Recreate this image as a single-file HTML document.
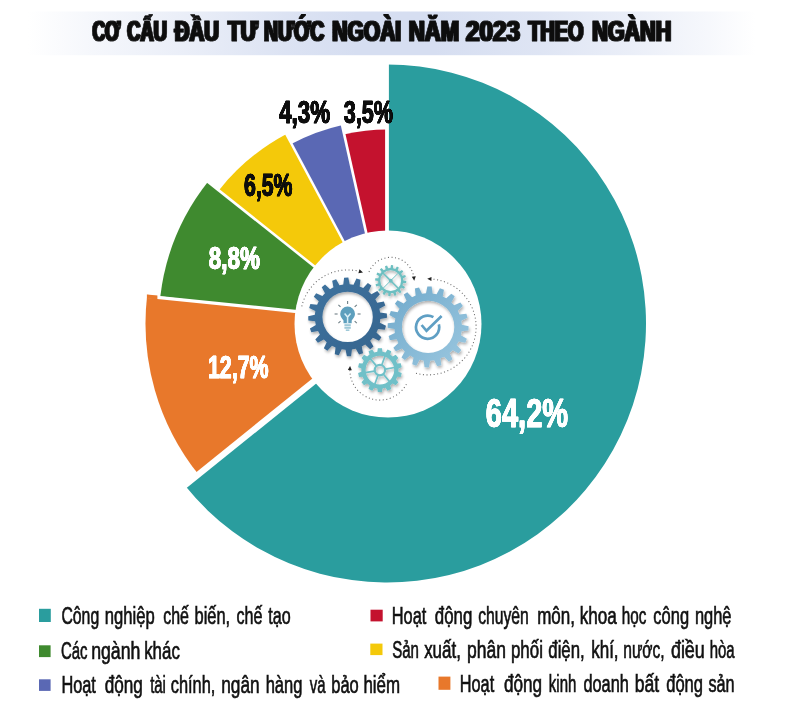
<!DOCTYPE html>
<html lang="vi"><head><meta charset="utf-8"><title>Cơ cấu đầu tư nước ngoài năm 2023 theo ngành</title>
<style>
html,body{margin:0;padding:0;background:#fff;}
body{width:791px;height:717px;overflow:hidden;}
svg{display:block;}
text{font-family:"Liberation Sans",sans-serif;font-kerning:none;}
.pct{font-weight:bold;}
.lg{font-size:23.0px;fill:#111;}
</style></head><body>
<svg width="791" height="717" viewBox="0 0 791 717">
<defs>
<linearGradient id="band" x1="0" x2="1" y1="0" y2="0">
<stop offset="0.035" stop-color="#d6def1" stop-opacity="0"/>
<stop offset="0.12" stop-color="#d6def1" stop-opacity="0.25"/>
<stop offset="0.25" stop-color="#d6def1" stop-opacity="0.55"/>
<stop offset="0.36" stop-color="#d6def1" stop-opacity="0.85"/>
<stop offset="0.45" stop-color="#d6def1" stop-opacity="1"/>
<stop offset="0.55" stop-color="#d6def1" stop-opacity="1"/>
<stop offset="0.68" stop-color="#d6def1" stop-opacity="0.8"/>
<stop offset="0.8" stop-color="#d6def1" stop-opacity="0.5"/>
<stop offset="0.9" stop-color="#d6def1" stop-opacity="0.2"/>
<stop offset="0.955" stop-color="#d6def1" stop-opacity="0"/>
</linearGradient>
<filter id="fatT" x="-2%" y="-30%" width="104%" height="160%"><feMorphology operator="dilate" radius="1 0.01"/></filter>
<filter id="fatP" x="-5%" y="-30%" width="110%" height="160%"><feOffset in="SourceGraphic" dx="-0.35" result="a"/><feOffset in="SourceGraphic" dx="0.35" result="b"/><feMerge><feMergeNode in="a"/><feMergeNode in="b"/><feMergeNode in="SourceGraphic"/></feMerge></filter>
<filter id="sh" x="-30%" y="-30%" width="160%" height="160%">
<feGaussianBlur in="SourceAlpha" stdDeviation="1.8" result="b"/>
<feOffset in="b" dx="1.2" dy="1.5" result="o"/>
<feComponentTransfer in="o" result="s"><feFuncA type="linear" slope="0.32"/></feComponentTransfer>
<feMerge><feMergeNode in="s"/><feMergeNode in="SourceGraphic"/></feMerge>
</filter>
<linearGradient id="gL" x1="0" y1="0" x2="1" y2="1"><stop offset="0" stop-color="#3f74a0"/><stop offset="1" stop-color="#35638d"/></linearGradient>
<linearGradient id="gR" x1="0" y1="0" x2="1" y2="1"><stop offset="0" stop-color="#6fa9cb"/><stop offset="1" stop-color="#9cc8e0"/></linearGradient>
</defs>
<rect x="0" y="0" width="791" height="717" fill="#fff"/>
<rect x="0" y="11.5" width="791" height="43.7" fill="url(#band)"/>

<text y="41.4" font-size="30.4" font-weight="bold" fill="#0b0b0b" stroke="#0b0b0b" stroke-width="0.8" stroke-linejoin="round" filter="url(#fatT)"><tspan x="92.38" textLength="27.77" lengthAdjust="spacingAndGlyphs">CƠ</tspan> <tspan x="127.35" textLength="39.46" lengthAdjust="spacingAndGlyphs">CẤU</tspan> <tspan x="174.82" textLength="44.23" lengthAdjust="spacingAndGlyphs">ĐẦU</tspan> <tspan x="228.07" textLength="29.68" lengthAdjust="spacingAndGlyphs">TƯ</tspan> <tspan x="264.01" textLength="60.21" lengthAdjust="spacingAndGlyphs">NƯỚC</tspan> <tspan x="332.29" textLength="68.91" lengthAdjust="spacingAndGlyphs">NGOÀI</tspan> <tspan x="408.82" textLength="50.25" lengthAdjust="spacingAndGlyphs">NĂM</tspan> <tspan x="466.06" textLength="53.92" lengthAdjust="spacingAndGlyphs">2023</tspan> <tspan x="528.38" textLength="55.05" lengthAdjust="spacingAndGlyphs">THEO</tspan> <tspan x="592.26" textLength="78.99" lengthAdjust="spacingAndGlyphs">NGÀNH</tspan></text>
<path d="M387.00,323.50 L387.00,64.50 A259.0,259.0 0 1 1 185.38,486.07 Z" fill="#2a9d9e"/>
<path d="M387.00,323.50 L199.00,475.09 A241.5,241.5 0 0 1 147.22,294.74 Z" fill="#e8782b"/>
<path d="M387.00,323.50 L160.32,296.31 A228.3,228.3 0 0 1 208.38,181.32 Z" fill="#3f8a2f"/>
<path d="M387.00,323.50 L219.18,189.91 A214.5,214.5 0 0 1 286.03,134.25 Z" fill="#f4c90a"/>
<path d="M387.00,323.50 L291.21,143.95 A203.5,203.5 0 0 1 342.61,124.90 Z" fill="#5a68b4"/>
<path d="M387.00,323.50 L344.68,134.17 A194.0,194.0 0 0 1 387.00,129.50 Z" fill="#c4122e"/>
<line x1="387.00" y1="323.50" x2="387.00" y2="62.50" stroke="#fff" stroke-width="3.8"/>
<line x1="386.47" y1="322.84" x2="183.29" y2="486.67" stroke="#fff" stroke-width="6.3"/>
<line x1="386.63" y1="323.97" x2="205.89" y2="180.11" stroke="#fff" stroke-width="2.6"/>
<line x1="387.26" y1="323.36" x2="285.12" y2="131.90" stroke="#fff" stroke-width="2.4"/>
<line x1="386.46" y1="323.62" x2="341.53" y2="122.58" stroke="#fff" stroke-width="2.7"/>
<line x1="140" y1="295.64" x2="300" y2="311.87" stroke="#fff" stroke-width="3.3"/>
<path d="M146.9,294.5 L157.4,295.6 L157.4,299.6 L146.9,298.5Z" fill="#e8782b"/>
<circle cx="388" cy="324" r="93.5" fill="#fff"/>
<path d="M301.80,306.33 A47,47 0 0 1 360.55,271.72" fill="none" stroke="#6a6a6a" stroke-width="1.05" stroke-dasharray="1.05 2.5" stroke-linecap="butt"/><path d="M362.98,272.42 L358.39,273.18 L359.49,269.34Z" fill="#222"/>
<path d="M369.00,271.93 A23.4,23.4 0 0 1 413.97,278.25" fill="none" stroke="#6a6a6a" stroke-width="1.05" stroke-dasharray="1.05 2.5" stroke-linecap="butt"/><path d="M414.24,280.76 L411.81,276.79 L415.79,276.37Z" fill="#222"/>
<path d="M416.00,373.35 A48,48 0 1 0 429.78,278.93" fill="none" stroke="#6a6a6a" stroke-width="1.05" stroke-dasharray="1.05 2.5" stroke-linecap="butt"/><path d="M427.26,278.84 L431.52,276.99 L431.38,280.99Z" fill="#222"/>
<path d="M406.39,384.18 A30,30 0 0 1 349.94,368.53" fill="none" stroke="#6a6a6a" stroke-width="1.05" stroke-dasharray="1.05 2.5" stroke-linecap="butt"/><path d="M350.07,366.01 L351.85,370.31 L347.86,370.10Z" fill="#222"/>
<g filter="url(#sh)">
<path d="M390.44,268.10 L390.99,265.10 L393.12,265.29 L393.14,268.34 L395.28,268.96 L396.94,266.40 L398.84,267.39 L397.69,270.22 L399.42,271.61 L401.93,269.88 L403.31,271.52 L401.17,273.69 L402.24,275.64 L405.22,275.00 L405.86,277.04 L403.06,278.23 L403.30,280.44 L406.30,280.99 L406.11,283.12 L403.06,283.14 L402.44,285.28 L405.00,286.94 L404.01,288.84 L401.18,287.69 L399.79,289.42 L401.52,291.93 L399.88,293.31 L397.71,291.17 L395.76,292.24 L396.40,295.22 L394.36,295.86 L393.17,293.06 L390.96,293.30 L390.41,296.30 L388.28,296.11 L388.26,293.06 L386.12,292.44 L384.46,295.00 L382.56,294.01 L383.71,291.18 L381.98,289.79 L379.47,291.52 L378.09,289.88 L380.23,287.71 L379.16,285.76 L376.18,286.40 L375.54,284.36 L378.34,283.17 L378.10,280.96 L375.10,280.41 L375.29,278.28 L378.34,278.26 L378.96,276.12 L376.40,274.46 L377.39,272.56 L380.22,273.71 L381.61,271.98 L379.88,269.47 L381.52,268.09 L383.69,270.23 L385.64,269.16 L385.00,266.18 L387.04,265.54 L388.23,268.34Z M380.30,280.70 a10.4,10.4 0 1 0 20.8,0 a10.4,10.4 0 1 0 -20.8,0Z" fill="#6dbfc1" fill-rule="evenodd" />
<g stroke="#6dbfc1" stroke-linecap="butt"><line x1="383.2" y1="273.2" x2="398.2" y2="288.2" stroke-width="1.6"/><line x1="398.2" y1="273.2" x2="383.2" y2="288.2" stroke-width="1.0"/></g><circle cx="390.7" cy="280.7" r="2" fill="#6dbfc1"/>
<path d="M377.32,351.68 L377.83,348.20 L381.97,348.20 L382.48,351.68 L385.57,352.38 L387.54,349.47 L391.27,351.26 L390.22,354.62 L392.69,356.60 L395.73,354.83 L398.31,358.06 L395.91,360.63 L397.28,363.49 L400.79,363.21 L401.71,367.24 L398.43,368.52 L398.43,371.68 L401.71,372.96 L400.79,376.99 L397.28,376.71 L395.91,379.57 L398.31,382.14 L395.73,385.37 L392.69,383.60 L390.22,385.58 L391.27,388.94 L387.54,390.73 L385.57,387.82 L382.48,388.52 L381.97,392.00 L377.83,392.00 L377.32,388.52 L374.23,387.82 L372.26,390.73 L368.53,388.94 L369.58,385.58 L367.11,383.60 L364.07,385.37 L361.49,382.14 L363.89,379.57 L362.52,376.71 L359.01,376.99 L358.09,372.96 L361.37,371.68 L361.37,368.52 L358.09,367.24 L359.01,363.21 L362.52,363.49 L363.89,360.63 L361.49,358.06 L364.07,354.83 L367.11,356.60 L369.58,354.62 L368.53,351.26 L372.26,349.47 L374.23,352.38Z M365.60,370.10 a14.3,14.3 0 1 0 28.6,0 a14.3,14.3 0 1 0 -28.6,0Z" fill="#6fc0c8" fill-rule="evenodd" />
<g stroke="#6fc0c8" stroke-width="1.7"><line x1="381.78" y1="364.93" x2="385.03" y2="356.00"/><line x1="385.32" y1="369.14" x2="394.67" y2="367.50"/><line x1="383.44" y1="374.31" x2="389.54" y2="381.59"/><line x1="378.02" y1="375.27" x2="374.77" y2="384.20"/><line x1="374.48" y1="371.06" x2="365.13" y2="372.70"/><line x1="376.36" y1="365.89" x2="370.26" y2="358.61"/></g><circle cx="379.9" cy="370.1" r="5.2" fill="none" stroke="#6fc0c8" stroke-width="2.2"/>
<path d="M425.99,293.17 L427.35,286.41 L431.67,286.56 L432.56,293.40 L436.52,294.16 L439.90,288.16 L443.96,289.64 L442.69,296.41 L446.22,298.37 L451.30,293.70 L454.70,296.36 L451.40,302.41 L454.15,305.36 L460.42,302.49 L462.84,306.08 L457.83,310.81 L459.53,314.47 L466.38,313.67 L467.57,317.83 L461.34,320.79 L461.83,324.79 L468.59,326.15 L468.44,330.47 L461.60,331.36 L460.84,335.32 L466.84,338.70 L465.36,342.76 L458.59,341.49 L456.63,345.02 L461.30,350.10 L458.64,353.50 L452.59,350.20 L449.64,352.95 L452.51,359.22 L448.92,361.64 L444.19,356.63 L440.53,358.33 L441.33,365.18 L437.17,366.37 L434.21,360.14 L430.21,360.63 L428.85,367.39 L424.53,367.24 L423.64,360.40 L419.68,359.64 L416.30,365.64 L412.24,364.16 L413.51,357.39 L409.98,355.43 L404.90,360.10 L401.50,357.44 L404.80,351.39 L402.05,348.44 L395.78,351.31 L393.36,347.72 L398.37,342.99 L396.67,339.33 L389.82,340.13 L388.63,335.97 L394.86,333.01 L394.37,329.01 L387.61,327.65 L387.76,323.33 L394.60,322.44 L395.36,318.48 L389.36,315.10 L390.84,311.04 L397.61,312.31 L399.57,308.78 L394.90,303.70 L397.56,300.30 L403.61,303.60 L406.56,300.85 L403.69,294.58 L407.28,292.16 L412.01,297.17 L415.67,295.47 L414.87,288.62 L419.03,287.43 L421.99,293.66Z M401.90,326.90 a26.2,26.2 0 1 0 52.4,0 a26.2,26.2 0 1 0 -52.4,0Z" fill="url(#gR)" fill-rule="evenodd" />
<path d="M343.27,284.39 L344.12,277.65 L348.33,277.51 L349.65,284.16 L353.53,284.64 L356.42,278.50 L360.47,279.66 L359.66,286.40 L363.21,288.05 L367.86,283.11 L371.34,285.46 L368.50,291.62 L371.36,294.29 L377.31,291.02 L379.90,294.33 L375.29,299.32 L377.19,302.74 L383.85,301.47 L385.29,305.42 L379.37,308.73 L380.11,312.57 L386.85,313.42 L386.99,317.63 L380.34,318.95 L379.86,322.83 L386.00,325.72 L384.84,329.77 L378.10,328.96 L376.45,332.51 L381.39,337.16 L379.04,340.64 L372.88,337.80 L370.21,340.66 L373.48,346.61 L370.17,349.20 L365.18,344.59 L361.76,346.49 L363.03,353.15 L359.08,354.59 L355.77,348.67 L351.93,349.41 L351.08,356.15 L346.87,356.29 L345.55,349.64 L341.67,349.16 L338.78,355.30 L334.73,354.14 L335.54,347.40 L331.99,345.75 L327.34,350.69 L323.86,348.34 L326.70,342.18 L323.84,339.51 L317.89,342.78 L315.30,339.47 L319.91,334.48 L318.01,331.06 L311.35,332.33 L309.91,328.38 L315.83,325.07 L315.09,321.23 L308.35,320.38 L308.21,316.17 L314.86,314.85 L315.34,310.97 L309.20,308.08 L310.36,304.03 L317.10,304.84 L318.75,301.29 L313.81,296.64 L316.16,293.16 L322.32,296.00 L324.99,293.14 L321.72,287.19 L325.03,284.60 L330.02,289.21 L333.44,287.31 L332.17,280.65 L336.12,279.21 L339.43,285.13Z M322.40,316.90 a25.2,25.2 0 1 0 50.4,0 a25.2,25.2 0 1 0 -50.4,0Z" fill="url(#gL)" fill-rule="evenodd" />
</g>
<path fill="#5e9fbd" d="M340.20000000000005,314.0 a7.4,7.4 0 1 1 14.8,0 c0,3 -2.3,4.8 -3.3,6.6 l0,2.6 l-8.2,0 l0,-2.6 c-1,-1.8 -3.3,-3.6 -3.3,-6.6Z"/>
<g fill="#9fc9d8"><rect x="344.40000000000003" y="324.2" width="6.4" height="2.0"/><rect x="344.40000000000003" y="326.8" width="6.4" height="2.0"/><rect x="345.8" y="329.4" width="3.6" height="1.6"/></g>
<path d="M344.6,313.4 L347.6,317.0 L350.6,313.4 M347.6,317.0 L347.6,323.2" stroke="#d9eef6" stroke-width="1.5" fill="none"/>
<g stroke="#6f7f86" stroke-width="1.1">
<line x1="337.60" y1="314.00" x2="334.60" y2="314.00"/>
<line x1="340.53" y1="306.93" x2="338.41" y2="304.81"/>
<line x1="347.60" y1="304.00" x2="347.60" y2="301.00"/>
<line x1="354.67" y1="306.93" x2="356.79" y2="304.81"/>
<line x1="357.60" y1="314.00" x2="360.60" y2="314.00"/>
<line x1="340.53" y1="321.07" x2="338.41" y2="323.19"/>
<line x1="354.67" y1="321.07" x2="356.79" y2="323.19"/>
</g>
<path d="M438.86,324.39 A11.6,11.6 0 1 1 433.40,317.15" fill="none" stroke="#5f9fc4" stroke-width="2.7"/>
<path d="M421.6,325.0 L426.5,330.8 L441.6,316.0" fill="none" stroke="#5f9fc4" stroke-width="2.7"/>
<text class="pct" x="485.84" y="426.7" font-size="41.0" fill="#fff" stroke="#fff" stroke-width="0.7" stroke-linejoin="round" filter="url(#fatP)" textLength="82.23" lengthAdjust="spacingAndGlyphs">64,2%</text>
<text class="pct" x="207.95" y="377.8" font-size="31.3" fill="#fff" stroke="#fff" stroke-width="0.7" stroke-linejoin="round" filter="url(#fatP)" textLength="60.71" lengthAdjust="spacingAndGlyphs">12,7%</text>
<text class="pct" x="208.69" y="269.2" font-size="31.3" fill="#fff" stroke="#fff" stroke-width="0.7" stroke-linejoin="round" filter="url(#fatP)" textLength="51.21" lengthAdjust="spacingAndGlyphs">8,8%</text>
<text class="pct" x="243.92" y="196.0" font-size="31.0" fill="#0b0b0b" stroke="#0b0b0b" stroke-width="0.7" stroke-linejoin="round" filter="url(#fatP)" textLength="48.54" lengthAdjust="spacingAndGlyphs">6,5%</text>
<text class="pct" x="279.16" y="123.2" font-size="31.0" fill="#0b0b0b" stroke="#0b0b0b" stroke-width="0.7" stroke-linejoin="round" filter="url(#fatP)" textLength="51.03" lengthAdjust="spacingAndGlyphs">4,3%</text>
<text class="pct" x="343.7" y="123.0" font-size="31.0" fill="#0b0b0b" stroke="#0b0b0b" stroke-width="0.7" stroke-linejoin="round" filter="url(#fatP)" textLength="49.16" lengthAdjust="spacingAndGlyphs">3,5%</text>
<rect x="39" y="608.8" width="11.8" height="13.2" fill="#2a9d9e"/>
<rect x="39" y="645.3" width="11.6" height="11.8" fill="#3f8a2f"/>
<rect x="39" y="679.3" width="11.6" height="11.6" fill="#5a68b4"/>
<rect x="370.5" y="609.7" width="12.2" height="11.7" fill="#c4122e"/>
<rect x="370.3" y="643.6" width="12.2" height="11.5" fill="#f4c90a"/>
<rect x="438.5" y="676.6" width="11.9" height="13.2" fill="#e8782b"/>
<text class="lg" y="624.4" stroke="#111" stroke-width="0.65"><tspan x="61.42" textLength="37.77" lengthAdjust="spacingAndGlyphs">Công</tspan> <tspan x="104.82" textLength="49.95" lengthAdjust="spacingAndGlyphs">nghiệp</tspan> <tspan x="163.15" textLength="25.75" lengthAdjust="spacingAndGlyphs">chế</tspan> <tspan x="194.57" textLength="35.58" lengthAdjust="spacingAndGlyphs">biến,</tspan> <tspan x="236.44" textLength="25.96" lengthAdjust="spacingAndGlyphs">chế</tspan> <tspan x="268.28" textLength="22.37" lengthAdjust="spacingAndGlyphs">tạo</tspan></text>
<text class="lg" y="659.3" stroke="#111" stroke-width="0.65"><tspan x="60.97" textLength="26.59" lengthAdjust="spacingAndGlyphs">Các</tspan> <tspan x="91.15" textLength="49.28" lengthAdjust="spacingAndGlyphs">ngành</tspan> <tspan x="144.19" textLength="35.63" lengthAdjust="spacingAndGlyphs">khác</tspan></text>
<text class="lg" y="692.6" stroke="#111" stroke-width="0.65"><tspan x="61.38" textLength="34.51" lengthAdjust="spacingAndGlyphs">Hoạt</tspan> <tspan x="104.7" textLength="38.18" lengthAdjust="spacingAndGlyphs">động</tspan> <tspan x="150.15" textLength="15.79" lengthAdjust="spacingAndGlyphs">tài</tspan> <tspan x="170.73" textLength="44.62" lengthAdjust="spacingAndGlyphs">chính,</tspan> <tspan x="221.18" textLength="38.42" lengthAdjust="spacingAndGlyphs">ngân</tspan> <tspan x="265.68" textLength="36.76" lengthAdjust="spacingAndGlyphs">hàng</tspan> <tspan x="309.81" textLength="15.79" lengthAdjust="spacingAndGlyphs">và</tspan> <tspan x="331.26" textLength="27.5" lengthAdjust="spacingAndGlyphs">bảo</tspan> <tspan x="363.45" textLength="36.64" lengthAdjust="spacingAndGlyphs">hiểm</tspan></text>
<text class="lg" y="624.0" stroke="#111" stroke-width="0.65"><tspan x="391.78" textLength="34.51" lengthAdjust="spacingAndGlyphs">Hoạt</tspan> <tspan x="434.82" textLength="37.44" lengthAdjust="spacingAndGlyphs">động</tspan> <tspan x="478.16" textLength="50.64" lengthAdjust="spacingAndGlyphs">chuyên</tspan> <tspan x="537.2" textLength="37.81" lengthAdjust="spacingAndGlyphs">môn,</tspan> <tspan x="579.67" textLength="37.14" lengthAdjust="spacingAndGlyphs">khoa</tspan> <tspan x="621.67" textLength="24.61" lengthAdjust="spacingAndGlyphs">học</tspan> <tspan x="653.33" textLength="35.71" lengthAdjust="spacingAndGlyphs">công</tspan> <tspan x="694.93" textLength="36.57" lengthAdjust="spacingAndGlyphs">nghệ</tspan></text>
<text class="lg" y="658.4" stroke="#111" stroke-width="0.65"><tspan x="392.14" textLength="26.81" lengthAdjust="spacingAndGlyphs">Sản</tspan> <tspan x="424.13" textLength="36.76" lengthAdjust="spacingAndGlyphs">xuất,</tspan> <tspan x="467.0" textLength="38.91" lengthAdjust="spacingAndGlyphs">phân</tspan> <tspan x="510.93" textLength="31.98" lengthAdjust="spacingAndGlyphs">phối</tspan> <tspan x="548.32" textLength="36.36" lengthAdjust="spacingAndGlyphs">điện,</tspan> <tspan x="591.18" textLength="27.43" lengthAdjust="spacingAndGlyphs">khí,</tspan> <tspan x="623.29" textLength="41.38" lengthAdjust="spacingAndGlyphs">nước,</tspan> <tspan x="670.91" textLength="33.92" lengthAdjust="spacingAndGlyphs">điều</tspan> <tspan x="709.69" textLength="24.94" lengthAdjust="spacingAndGlyphs">hòa</tspan></text>
<text class="lg" y="691.7" stroke="#111" stroke-width="0.65"><tspan x="459.79" textLength="34.41" lengthAdjust="spacingAndGlyphs">Hoạt</tspan> <tspan x="503.9" textLength="38.18" lengthAdjust="spacingAndGlyphs">động</tspan> <tspan x="548.81" textLength="27.54" lengthAdjust="spacingAndGlyphs">kinh</tspan> <tspan x="583.44" textLength="45.4" lengthAdjust="spacingAndGlyphs">doanh</tspan> <tspan x="634.79" textLength="24.41" lengthAdjust="spacingAndGlyphs">bất</tspan> <tspan x="666.23" textLength="36.81" lengthAdjust="spacingAndGlyphs">động</tspan> <tspan x="708.47" textLength="26.15" lengthAdjust="spacingAndGlyphs">sản</tspan></text>
</svg></body></html>
